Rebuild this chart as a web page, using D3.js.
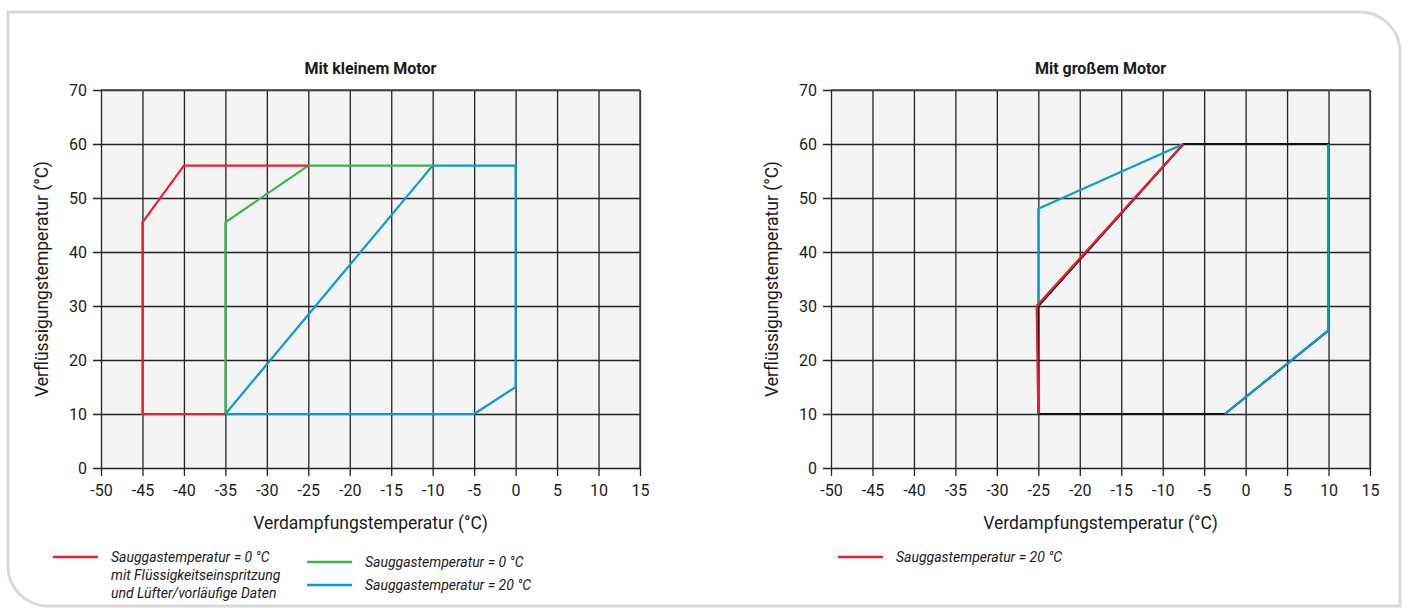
<!DOCTYPE html>
<html lang="de">
<head>
<meta charset="utf-8">
<title>Einsatzgrenzen</title>
<script src="https://d3js.org/d3.v7.min.js"></script>
<style>
  body { margin: 0; background: #fff; }
  svg text { font-family: "Roboto", "Noto Sans", sans-serif; fill: #1a1a1a; }
</style>
</head>
<body>
<svg width="1407" height="608"></svg>
<script>
// achsen
var xTicks = [-50,-45,-40,-35,-30,-25,-20,-15,-10,-5,0,5,10,15];
var yTicks = [0,10,20,30,40,50,60,70];

// linkes diagramm: mit kleinem motor  [verdampfung, verfluessigung]
var smallRed   = [[-25,56],[-40,56],[-45,45.5],[-45,10],[-35,10]];
var smallGreen = [[-10,56],[-25,56],[-35,45.5],[-35,10]];
var smallBlue  = [[-35,10],[-10,56],[0,56],[0,15],[-5,10],[-35,10]];

// rechtes diagramm: mit grossem motor
var bigBlack   = [[-25,10],[-25,30],[-7.5,60],[10,60],[10,25.5],[-2.5,10],[-25,10]];
var bigBlueA   = [[-25,30],[-25,48],[-7.5,60]];
var bigBlueB   = [[10,60],[10,25.5],[-2.5,10]];
var bigRed     = [[-25,10],[-25.2,30],[-7.5,60]];

var RED = "#e8202f", GREEN = "#3db549", BLUE = "#0a9dcc";

var svg = d3.select("svg");

// rahmen
svg.append("path")
    .attr("d", "M8,12 H1360 A40,40 0 0 1 1400,52 V606 H48 A40,40 0 0 1 8,566 Z")
    .attr("fill", "none")
    .attr("stroke", "#d9d9d9")
    .attr("stroke-width", 3);

var w = 539, h = 378;

function drawChart(left, title, series, legend) {
    var g = svg.append("g").attr("transform", "translate(" + left + ",90)");
    var x = d3.scaleLinear().domain([-50,15]).range([0,w]);
    var y = d3.scaleLinear().domain([0,70]).range([h,0]);

    g.append("rect").attr("width", w).attr("height", h).attr("fill", "#f4f4f4");

    var xa = g.append("g")
        .attr("transform", "translate(0," + (h+8) + ")")
        .call(d3.axisBottom(x).tickValues(xTicks).tickSize(-(h+8)).tickPadding(9).tickFormat(d3.format("d")));
    var ya = g.append("g")
        .attr("transform", "translate(-8,0)")
        .call(d3.axisLeft(y).tickValues(yTicks).tickSize(-(w+8)).tickPadding(6));
    [xa, ya].forEach(function(a){
        a.select(".domain").remove();
        a.selectAll("line").attr("stroke", "#222").attr("stroke-width", 1.3);
        a.selectAll("text").attr("font-size", 16).attr("fill", "#1a1a1a")
            .text(function(d){ return String(d).replace("\u2212", "-"); });
    });
    // obere und rechte begrenzung
    g.append("line").attr("x1", 0).attr("x2", w).attr("y1", 0).attr("y2", 0).attr("stroke", "#444").attr("stroke-width", 1.5);
    g.append("line").attr("x1", w).attr("x2", w).attr("y1", 0).attr("y2", h).attr("stroke", "#444").attr("stroke-width", 1.5);

    var line = d3.line().x(function(d){ return x(d[0]); }).y(function(d){ return y(d[1]); });
    series.forEach(function(s){
        g.append("path").attr("d", line(s.data)).attr("fill", "none")
            .attr("stroke", s.color).attr("stroke-width", s.width || 2.2)
            .attr("stroke-linejoin", "round");
    });

    g.append("text").attr("x", w/2).attr("y", -16).attr("text-anchor", "middle")
        .attr("font-size", 16).attr("font-weight", "bold").text(title);
    g.append("text").attr("x", w/2).attr("y", h+61).attr("text-anchor", "middle")
        .attr("font-size", 17.5).text("Verdampfungstemperatur (°C)");
    g.append("text").attr("transform", "translate(-53," + (h/2) + ") rotate(-90)")
        .attr("text-anchor", "middle").attr("font-size", 17.5).text("Verflüssigungstemperatur (°C)");

    legend.forEach(function(l){
        svg.append("line").attr("x1", l.x).attr("x2", l.x+45).attr("y1", l.y).attr("y2", l.y)
            .attr("stroke", l.color).attr("stroke-width", 2.5);
        l.lines.forEach(function(t, i){
            svg.append("text").attr("x", l.x+58).attr("y", l.y + 5 + i*18)
                .attr("font-size", 14).attr("font-style", "italic").text(t);
        });
    });
}

drawChart(101, "Mit kleinem Motor", [
    {data: smallBlue, color: BLUE},
    {data: smallGreen, color: GREEN},
    {data: smallRed, color: RED}
], [
    {x: 53, y: 557, color: RED, lines: ["Sauggastemperatur = 0 °C", "mit Flüssigkeitseinspritzung", "und Lüfter/vorläufige Daten"]},
    {x: 307, y: 562, color: GREEN, lines: ["Sauggastemperatur = 0 °C"]},
    {x: 307, y: 585, color: BLUE, lines: ["Sauggastemperatur = 20 °C"]}
]);

drawChart(831, "Mit großem Motor", [
    {data: bigBlack, color: "#111", width: 2.2},
    {data: bigBlueA, color: BLUE},
    {data: bigBlueB, color: BLUE},
    {data: bigRed, color: RED}
], [
    {x: 838, y: 557, color: RED, lines: ["Sauggastemperatur = 20 °C"]}
]);
</script>
</body>
</html>
